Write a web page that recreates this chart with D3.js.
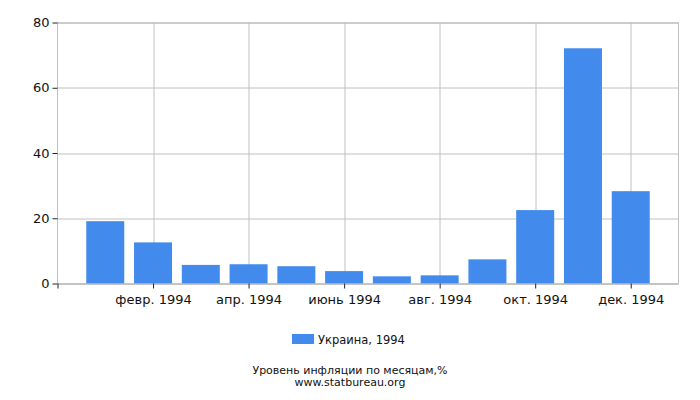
<!DOCTYPE html>
<html>
<head>
<meta charset="utf-8">
<script src="https://cdn.jsdelivr.net/npm/d3@7"></script>
<style>
  body { margin: 0; background: #fff; }
  text { font-family: "DejaVu Sans", sans-serif; fill: #111; }
</style>
</head>
<body>
<div id="chart"></div>
<script>
// monthly inflation, Ukraine 1994 (%)
var months = ["янв.", "февр.", "март", "апр.", "май", "июнь", "июль", "авг.", "сент.", "окт.", "нояб.", "дек."];
var values = [19.1, 12.6, 5.7, 5.9, 5.3, 3.8, 2.2, 2.5, 7.4, 22.5, 72.1, 28.3];
var tickIdx = [1, 3, 5, 7, 9, 11];
var tickLabels = ["февр. 1994", "апр. 1994", "июнь 1994", "авг. 1994", "окт. 1994", "дек. 1994"];
var yTicks = [0, 20, 40, 60, 80];
var seriesName = "Украина, 1994";
var caption = "Уровень инфляции по месяцам,%";
var source = "www.statbureau.org";

var W = 700, H = 400;
var margin = {top: 22.5, right: 21.5, bottom: 116.5, left: 57.5};
var width = W - margin.left - margin.right;
var height = H - margin.top - margin.bottom;
var barColor = "#428bed";
var gridColor = "#c0c0c0";

var svg = d3.select("#chart").append("svg")
	.attr("width", W)
	.attr("height", H);

var g = svg.append("g")
	.attr("transform", "translate(" + margin.left + "," + margin.top + ")");

// one empty month slot on each side
var x = d3.scaleLinear()
	.domain([-1, months.length])
	.range([0, width]);

var y = d3.scaleLinear()
	.domain([0, 80])
	.range([height, 0]);

// grid
g.selectAll(".hgrid")
	.data(yTicks)
	.enter().append("line")
	.attr("x1", 0).attr("x2", width)
	.attr("y1", function(d){ return Math.round(y(d)) + 0.5; })
	.attr("y2", function(d){ return Math.round(y(d)) + 0.5; })
	.attr("stroke", function(d){ return d === 80 ? "#9a9a9a" : gridColor; });

g.selectAll(".vgrid")
	.data(tickIdx)
	.enter().append("line")
	.attr("x1", function(d){ return Math.round(x(d)) + 0.5; })
	.attr("x2", function(d){ return Math.round(x(d)) + 0.5; })
	.attr("y1", 0).attr("y2", height)
	.attr("stroke", gridColor);

// frame sides
g.append("line").attr("x1", 0).attr("x2", 0).attr("y1", 0).attr("y2", height).attr("stroke", gridColor);
g.append("line").attr("x1", width).attr("x2", width).attr("y1", 0).attr("y2", height).attr("stroke", gridColor);

// bars
var barW = 38;
g.selectAll("rect.bar")
	.data(values)
	.enter().append("rect")
	.attr("class", "bar")
	.attr("x", function(d, i){ return x(i) - barW / 2; })
	.attr("y", function(d){ return y(d); })
	.attr("width", barW)
	.attr("height", function(d){ return height - y(d); })
	.attr("fill", barColor);

// axes
var yAxis = d3.axisLeft(y).tickValues(yTicks).tickSize(5).tickPadding(3);
var yg = g.append("g").call(yAxis);
yg.select(".domain").remove();
yg.selectAll(".tick line").attr("stroke", "#222");
yg.selectAll("text").style("font-size", "13px").attr("font-family", "DejaVu Sans");

var xAxis = d3.axisBottom(x).tickValues(tickIdx).tickSize(5).tickPadding(6)
	.tickFormat(function(d, i){ return tickLabels[i]; });
var xg = g.append("g").attr("transform", "translate(0," + height + ")").call(xAxis);
xg.select(".domain").attr("stroke", "#aaa").attr("d", "M0.5,0.5H" + width);
xg.selectAll(".tick line").attr("stroke", "#222");
xg.selectAll("text").style("font-size", "13px").attr("font-family", "DejaVu Sans");
// tick at the left corner
g.append("line").attr("x1", 0.5).attr("x2", 0.5).attr("y1", height).attr("y2", height + 5).attr("stroke", "#222");

// legend
var legend = svg.append("g").attr("transform", "translate(292,334)");
legend.append("rect").attr("width", 22).attr("height", 10).attr("fill", barColor);
legend.append("text").attr("x", 26).attr("y", 10).style("font-size", "11.5px").text(seriesName);

svg.append("text").attr("x", 350).attr("y", 374).attr("text-anchor", "middle")
	.style("font-size", "11px").text(caption);
svg.append("text").attr("x", 350).attr("y", 386).attr("text-anchor", "middle")
	.style("font-size", "11px").text(source);
</script>
</body>
</html>
